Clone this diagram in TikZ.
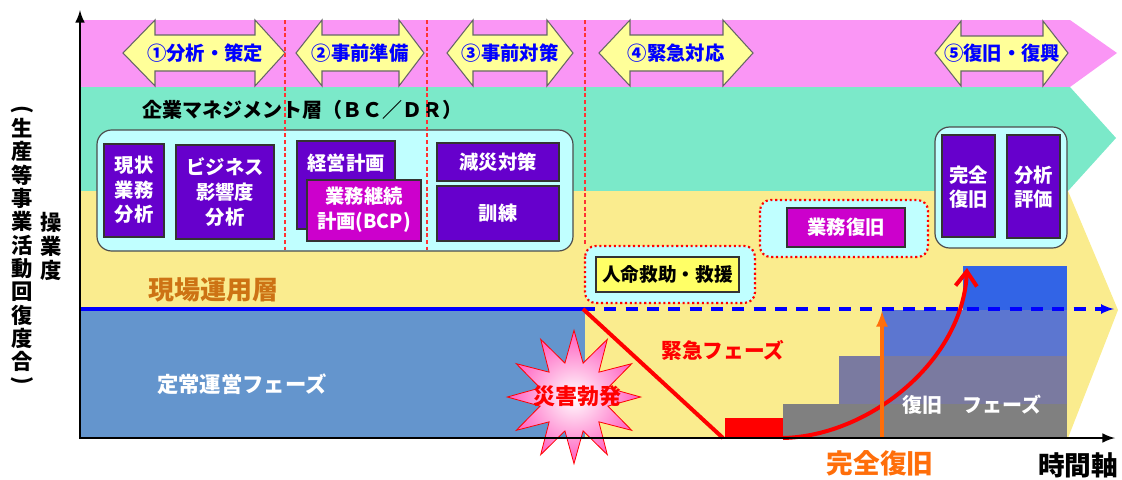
\documentclass[tikz,border=0pt]{standalone}
\usepackage{fontspec}
\setmainfont{Noto Sans CJK JP}
\usetikzlibrary{shapes.geometric, arrows.meta}
\definecolor{bandpink}{RGB}{250,150,245}
\definecolor{bandgreen}{RGB}{123,233,201}
\definecolor{bandyellow}{RGB}{250,236,142}
\definecolor{normalblue}{RGB}{100,149,205}
\definecolor{boxcyan}{RGB}{192,255,255}
\definecolor{boxpurple}{RGB}{102,0,204}
\definecolor{boxmagenta}{RGB}{204,0,204}
\definecolor{arrowyellow}{RGB}{255,255,153}
\definecolor{rescueyellow}{RGB}{255,255,102}
\definecolor{fieldorange}{RGB}{205,115,20}
\definecolor{recovorange}{RGB}{255,110,10}
\definecolor{stepgray}{RGB}{128,128,128}
\definecolor{stepslate}{RGB}{122,122,160}
\definecolor{stepblue}{RGB}{92,118,208}
\definecolor{stepbright}{RGB}{50,100,230}
\definecolor{starpink}{RGB}{255,90,190}

\begin{document}
\begin{tikzpicture}[x=0.75pt, y=-0.75pt,
    phasearrow/.style={draw=black!60, fill=arrowyellow, line width=0.8pt},
    phasetext/.style={text=blue, font=\bfseries\fontsize{14.5}{17}\selectfont, inner sep=0pt},
    groupbox/.style={draw=black!70, fill=boxcyan, line width=0.9pt, rounded corners=11pt},
    alertbox/.style={draw=red, fill=boxcyan, line width=1.6pt, dotted, rounded corners=8pt},
    unitbox/.style={draw=black!80, fill=boxpurple, line width=0.8pt},
    unittext/.style={text=white, align=center, font=\bfseries\fontsize{14.5}{18.5}\selectfont, inner sep=0pt},
    phasedash/.style={red!80, dash pattern=on 3pt off 2pt, line width=0.8pt},
    bigtext/.style={font=\bfseries\fontsize{#1}{#1}\selectfont, inner sep=0pt}]
    \useasboundingbox (0,0) rectangle (1122,479);

    \shade[top color=bandpink, middle color=white, bottom color=bandpink] (80,20) -- (1070,20) -- (1117,53) -- (1070,87) -- (80,87) -- cycle;
    \fill[bandgreen] (80,87) -- (1070,87) -- (1116,138) -- (1068,191) -- (80,191) -- cycle;
    \fill[bandyellow] (80,191) -- (1068,191) -- (1118,310) -- (1068,438) -- (80,438) -- cycle;
    \fill[normalblue] (80,309) rectangle (585,438);

    \fill[stepgray] (783,404) rectangle (1067,438);
    \fill[stepslate] (839,356) rectangle (1067,404);
    \fill[stepblue] (882,310) rectangle (1067,356);
    \fill[stepbright] (963,266) rectangle (1067,310);
    \fill[red] (725,418) rectangle (783,438);

    \draw[phasearrow] (123,53) -- (155,20) -- (155,35) -- (255,35) -- (255,20) -- (285,53) -- (255,86) -- (255,71) -- (155,71) -- (155,86) -- cycle;
    \node[phasetext] (plan) at (205,53) {①分析・策定};
    \draw[phasearrow] (296,53) -- (322,20) -- (322,35) -- (399,35) -- (399,20) -- (424,53) -- (399,86) -- (399,71) -- (322,71) -- (322,86) -- cycle;
    \node[phasetext] (prepare) at (360,53) {②事前準備};
    \draw[phasearrow] (447,53) -- (473,20) -- (473,35) -- (547,35) -- (547,20) -- (573,53) -- (547,86) -- (547,71) -- (473,71) -- (473,86) -- cycle;
    \node[phasetext] (measure) at (510,53) {③事前対策};
    \draw[phasearrow] (599,53) -- (630,20) -- (630,35) -- (723,35) -- (723,20) -- (753,53) -- (723,86) -- (723,71) -- (630,71) -- (630,86) -- cycle;
    \node[phasetext] (respond) at (676,53) {④緊急対応};
    \draw[phasearrow] (935,53) -- (961,21) -- (961,36) -- (1043,36) -- (1043,21) -- (1068,53) -- (1043,86) -- (1043,71) -- (961,71) -- (961,86) -- cycle;
    \node[phasetext] (rebuild) at (1002,53) {⑤復旧・復興};

    \node[bigtext=15, anchor=west] (mgmt) at (142,110) {企業マネジメント層（ＢＣ／ＤＲ）};

    \draw[groupbox] (97,130) rectangle (573,251);
    \draw[phasedash] (285,20) -- (285,250);
    \draw[phasedash] (427,20) -- (427,250);
    \draw[phasedash] (585,20) -- (585,246);
    \draw[unitbox] (104,144) rectangle (164,237);
    \node[unittext] (current) at (134,190) {現状\\業務\\分析};
    \draw[unitbox] (176,145) rectangle (274,239);
    \node[unittext] (impact) at (225,192) {ビジネス\\影響度\\分析};
    \draw[unitbox] (297,141) rectangle (395,229);
    \node[unittext] (mplan) at (346,163) {経営計画};
    \draw[unitbox, fill=boxmagenta] (307,180) rectangle (421,241);
    \node[unittext] (bcp) at (364,210) {業務継続\\計画(BCP)};
    \draw[unitbox] (437,143) rectangle (559,181);
    \node[unittext] (mitig) at (498,162) {減災対策};
    \draw[unitbox] (437,186) rectangle (559,241);
    \node[unittext] (drill) at (498,213.5) {訓練};

    \draw[groupbox] (935,127) rectangle (1067,248);
    \draw[unitbox] (942,135) rectangle (995,237);
    \node[unittext] (fullrec) at (968.5,187) {完全\\復旧};
    \draw[unitbox] (1007,135) rectangle (1060,238);
    \node[unittext] (review) at (1033.5,187) {分析\\評価};

    \draw[alertbox] (585,246) rectangle (755,303);
    \draw[draw=black!80, fill=rescueyellow, line width=0.8pt] (596,257) rectangle (739,292);
    \node[bigtext=14] (rescue) at (667.5,274.5) {人命救助・救援};
    \draw[alertbox] (760,200) rectangle (928,257);
    \draw[unitbox, fill=boxmagenta] (787,208) rectangle (905,247);
    \node[unittext] (restore) at (846,227.5) {業務復旧};

    \node[star, star points=12, star point ratio=1.9, minimum size=100pt, draw=red, line width=0.6pt, inner color=white, outer color=starpink] (burst) at (574,397) {};
    \node[bigtext=16.5, text=red] (onset) at (577,396) {災害勃発};

    \coordinate (drop) at (583,309);
    \coordinate (trough) at (723,438);
    \coordinate (restart) at (783,438);
    \coordinate (peak) at (967,268);
    \coordinate (fullbase) at (882,438);
    \coordinate (fulltop) at (882,311);
    \coordinate (lineend) at (1114,309);

    \draw[blue, line width=3pt] (80,309) -- (drop);
    \draw[blue, line width=2.3pt, dash pattern=on 9pt off 7pt, -latex] (drop) -- (lineend);
    \draw[red, line width=3pt] (drop) -- (trough);
    \draw[red, line width=3pt, -{Straight Barb[length=11pt, width=16pt]}] (restart) .. controls (870,436) and (963,360) .. (peak);
    \draw[recovorange, line width=3pt, -latex] (fullbase) -- (fulltop);

    \node[bigtext=19.5, text=fieldorange] (field) at (213,290) {現場運用層};
    \node[bigtext=16, text=white] (steady) at (242,384) {定常運営フェーズ};
    \node[bigtext=15.5, text=red] (emerg) at (723,350) {緊急フェーズ};
    \node[bigtext=15, text=white] (recov) at (972,405) {復旧　フェーズ};
    \node[bigtext=20, text=recovorange] (full) at (880,463) {完全復旧};
    \node[bigtext=20] (time) at (1078,465) {時間軸};

    \node[bigtext=16, rotate=-90] (yopen) at (22.5,110) {(};
    \node[align=center, font=\bfseries\fontsize{16}{17.5}\selectfont, inner sep=0pt] (ylabel) at (22.5,245) {生\\産\\等\\事\\業\\活\\動\\回\\復\\度\\合};
    \node[bigtext=16, rotate=-90] (yclose) at (22.5,381) {)};
    \node[align=center, font=\bfseries\fontsize{16}{18.2}\selectfont, inner sep=0pt] (yname) at (51.5,246.5) {操\\業\\度};

    \draw[line width=2.2pt, -latex] (80,439) -- (80,10);
    \draw[line width=2.2pt, -latex] (79,438) -- (1115,438);
\end{tikzpicture}
\end{document}
